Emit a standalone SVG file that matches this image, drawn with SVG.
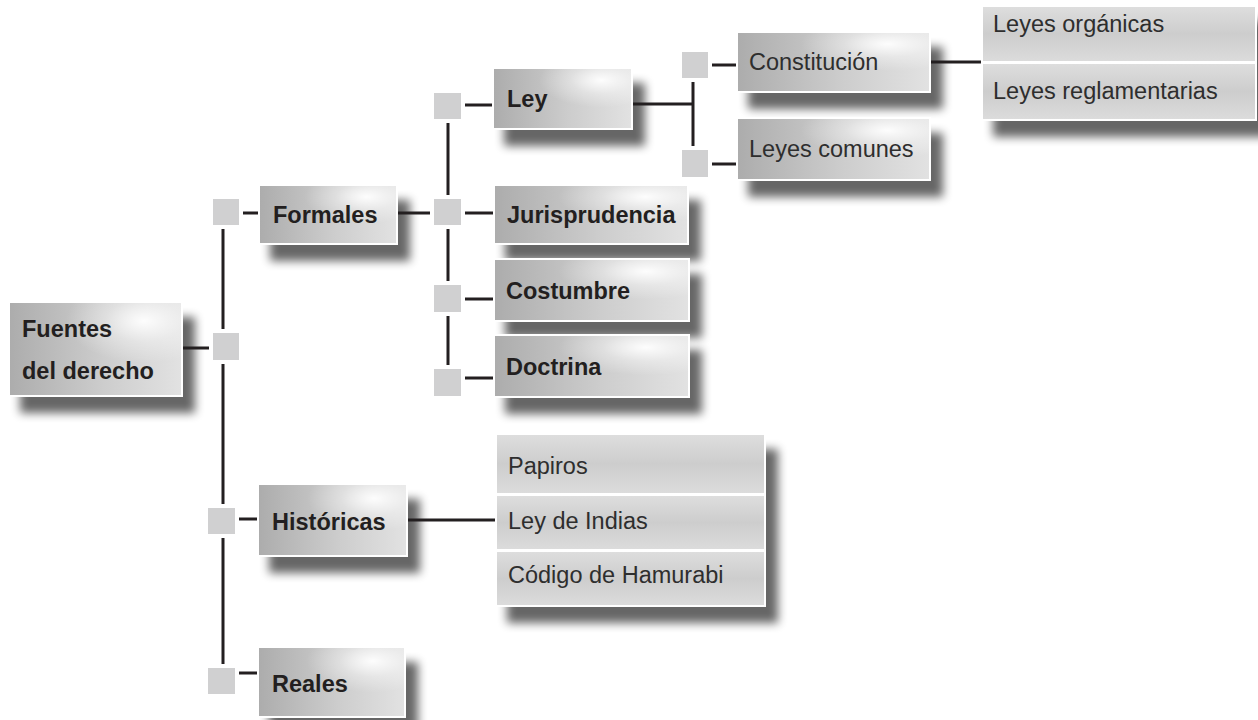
<svg xmlns="http://www.w3.org/2000/svg" width="1258" height="720" viewBox="0 0 1258 720">
  <defs>
    <style>
      .box { fill: url(#boxGrad); stroke: #ffffff; stroke-width: 2; filter: url(#drop); }
      .glow { fill: url(#glowGrad); }
      .stack { fill: #dedede; stroke: #ffffff; stroke-width: 2; filter: url(#drop); }
      .row { fill: url(#rowGrad); stroke: #ffffff; stroke-width: 2; }
      .b { font-family: "Liberation Sans", Arial, sans-serif; font-weight: bold; font-size: 23.5px; fill: #231f20; }
      .r { font-family: "Liberation Sans", Arial, sans-serif; font-size: 23.5px; fill: #2e2e2e; }
      .wire { stroke: #231f20; stroke-width: 3; fill: none; }
      .sq { fill: #d0d0d1; stroke: #ffffff; stroke-width: 8; paint-order: stroke; }
    </style>
    <linearGradient id="boxGrad" x1="0" y1="0" x2="1" y2="0">
      <stop offset="0" stop-color="#acacac"/>
      <stop offset="0.55" stop-color="#cdcdcd"/>
      <stop offset="1" stop-color="#e2e2e2"/>
    </linearGradient>
    <radialGradient id="glowGrad" cx="0.78" cy="0.2" r="0.45">
      <stop offset="0" stop-color="#ffffff" stop-opacity="0.95"/>
      <stop offset="0.5" stop-color="#ffffff" stop-opacity="0.35"/>
      <stop offset="1" stop-color="#ffffff" stop-opacity="0"/>
    </radialGradient>
    <linearGradient id="rowGrad" x1="0" y1="0" x2="0" y2="1">
      <stop offset="0" stop-color="#dedede"/>
      <stop offset="0.5" stop-color="#cdcdcd"/>
      <stop offset="1" stop-color="#dcdcdc"/>
    </linearGradient>
    <filter id="drop" x="-20%" y="-30%" width="150%" height="190%">
      <feGaussianBlur in="SourceAlpha" stdDeviation="5"/>
      <feOffset dx="12" dy="16"/>
      <feComponentTransfer><feFuncA type="linear" slope="0.6"/></feComponentTransfer>
      <feMerge><feMergeNode/><feMergeNode in="SourceGraphic"/></feMerge>
    </filter>
  </defs>

  <rect width="1258" height="720" fill="#ffffff"/>

  <!-- root -->
  <g id="fuentes">
    <rect class="box" x="9" y="302" width="173" height="94"/>
    <rect class="glow" x="9" y="302" width="173" height="94"/>
    <text class="b" x="22" y="337">Fuentes</text>
    <text class="b" x="22" y="379">del derecho</text>
  </g>

  <!-- first level -->
  <g id="formales">
    <rect class="box" x="259" y="185" width="138" height="59"/>
    <rect class="glow" x="259" y="185" width="138" height="59"/>
    <text class="b" x="273" y="223">Formales</text>
  </g>
  <g id="historicas">
    <rect class="box" x="258" y="484" width="149" height="72"/>
    <rect class="glow" x="258" y="484" width="149" height="72"/>
    <text class="b" x="272" y="530">Históricas</text>
  </g>
  <g id="reales">
    <rect class="box" x="258" y="647" width="147" height="70"/>
    <rect class="glow" x="258" y="647" width="147" height="70"/>
    <text class="b" x="272" y="692">Reales</text>
  </g>

  <!-- formal sources -->
  <g id="ley">
    <rect class="box" x="493" y="68" width="139" height="61"/>
    <rect class="glow" x="493" y="68" width="139" height="61"/>
    <text class="b" x="507" y="107">Ley</text>
  </g>
  <g id="jurisprudencia">
    <rect class="box" x="494" y="185" width="194" height="59"/>
    <rect class="glow" x="494" y="185" width="194" height="59"/>
    <text class="b" x="507" y="223">Jurisprudencia</text>
  </g>
  <g id="costumbre">
    <rect class="box" x="494" y="259" width="195" height="62"/>
    <rect class="glow" x="494" y="259" width="195" height="62"/>
    <text class="b" x="506" y="299">Costumbre</text>
  </g>
  <g id="doctrina">
    <rect class="box" x="494" y="335" width="195" height="62"/>
    <rect class="glow" x="494" y="335" width="195" height="62"/>
    <text class="b" x="506" y="375">Doctrina</text>
  </g>

  <!-- kinds of law -->
  <g id="constitucion">
    <rect class="box" x="737" y="32" width="193" height="60"/>
    <rect class="glow" x="737" y="32" width="193" height="60"/>
    <text class="r" x="749" y="70">Constitución</text>
  </g>
  <g id="leyes-comunes">
    <rect class="box" x="737" y="118" width="193" height="62"/>
    <rect class="glow" x="737" y="118" width="193" height="62"/>
    <text class="r" x="749" y="157">Leyes comunes</text>
  </g>

  <!-- list: organic and regulatory laws -->
  <g id="leyes-lista">
    <rect class="stack" x="982" y="6" width="274" height="114"/>
    <rect class="row" x="982" y="6" width="274" height="56"/>
    <rect class="row" x="982" y="63" width="274" height="57"/>
    <text class="r" x="993" y="32">Leyes orgánicas</text>
    <text class="r" x="993" y="99">Leyes reglamentarias</text>
  </g>

  <!-- list: historical documents -->
  <g id="historicas-lista">
    <rect class="stack" x="496" y="434" width="269" height="172"/>
    <rect class="row" x="496" y="434" width="269" height="60"/>
    <rect class="row" x="496" y="495" width="269" height="55"/>
    <rect class="row" x="496" y="551" width="269" height="55"/>
    <text class="r" x="508" y="474">Papiros</text>
    <text class="r" x="508" y="529">Ley de Indias</text>
    <text class="r" x="508" y="583">Código de Hamurabi</text>
  </g>

  <!-- connectors with their junction squares -->
  <g id="connectors">
    <!-- main trunk -->
    <line class="wire" x1="223" y1="212" x2="223" y2="681"/>
    <line class="wire" x1="183" y1="348" x2="213" y2="348"/>
    <line class="wire" x1="239" y1="213" x2="258" y2="213"/>
    <line class="wire" x1="235" y1="519" x2="257" y2="519"/>
    <line class="wire" x1="235" y1="673" x2="257" y2="673"/>

    <!-- formal branch -->
    <line class="wire" x1="448" y1="106" x2="448" y2="382"/>
    <line class="wire" x1="398" y1="213" x2="434" y2="213"/>
    <line class="wire" x1="461" y1="105" x2="492" y2="105"/>
    <line class="wire" x1="461" y1="213" x2="493" y2="213"/>
    <line class="wire" x1="461" y1="299" x2="493" y2="299"/>
    <line class="wire" x1="461" y1="378" x2="493" y2="378"/>

    <!-- law branch -->
    <line class="wire" x1="633" y1="104" x2="694" y2="104"/>
    <line class="wire" x1="693" y1="65" x2="693" y2="163"/>
    <line class="wire" x1="708" y1="65" x2="736" y2="65"/>
    <line class="wire" x1="708" y1="164" x2="736" y2="164"/>
    <line class="wire" x1="931" y1="62" x2="981" y2="62"/>

    <!-- historical branch -->
    <line class="wire" x1="408" y1="520" x2="495" y2="520"/>

    <!-- junction squares -->
    <rect class="sq" x="213" y="199" width="26" height="26"/>
    <rect class="sq" x="213" y="333" width="26" height="27"/>
    <rect class="sq" x="208" y="508" width="27" height="26"/>
    <rect class="sq" x="208" y="668" width="27" height="26"/>
    <rect class="sq" x="434" y="93" width="27" height="26"/>
    <rect class="sq" x="434" y="199" width="27" height="26"/>
    <rect class="sq" x="434" y="285" width="27" height="27"/>
    <rect class="sq" x="434" y="369" width="27" height="27"/>
    <rect class="sq" x="682" y="52" width="26" height="26"/>
    <rect class="sq" x="682" y="150" width="26" height="27"/>
  </g>
</svg>
